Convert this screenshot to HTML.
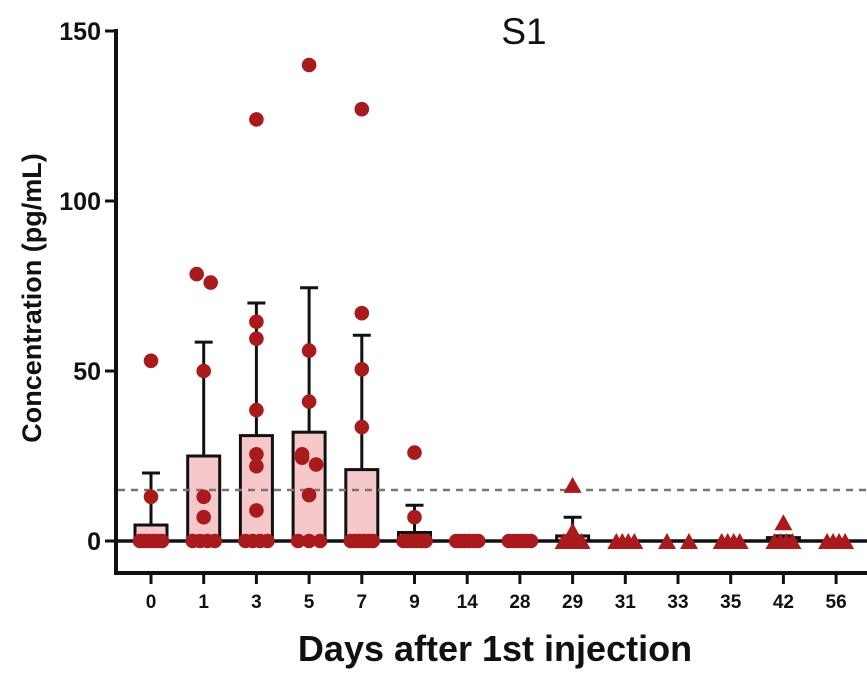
<!DOCTYPE html>
<html><head><meta charset="utf-8"><style>
html,body{margin:0;padding:0;background:#fff;}
svg{display:block;font-family:"Liberation Sans",Arial,sans-serif;}
</style></head><body>
<svg id="chart" width="867" height="675" viewBox="0 0 867 675"></svg>
<script>
const categories = ["0","1","3","5","7","9","14","28","29","31","33","35","42","56"];
const means = [4.7, 25, 31, 32, 21, 2.5, 0, 0, 1.5, 0, 0, 0, 1, 0];
const sdTops = [20, 58.5, 70, 74.5, 60.5, 10.5, 0, 0, 7, 0, 0, 0, 1.5, 0];
const pointValues = [
  [53, 13],
  [78.5, 76, 50, 13, 7],
  [124, 64.5, 59.5, 38.5, 25.5, 22, 9],
  [140, 56, 41, 25.5, 24.5, 22.5, 13.5],
  [127, 67, 50.5, 33.5],
  [26, 7],
  [], [], [16.5, 3], [], [], [], [5.5], []
];
const zeroCounts = [6, 4, 4, 3, 6, 6, 6, 6, 4, 4, 2, 4, 4, 4];
const isTriangle = [false,false,false,false,false,false,false,false,true,true,true,true,true,true];
const yTicks = [0, 50, 100, 150];
const threshold = 15;

const NS = "http://www.w3.org/2000/svg";
const svg = document.getElementById("chart");
const red = "#a81a1c";
function y(v){ return 541 - v * 3.4; }
function x(i){ return 151 + i * 52.7; }
function el(tag, attrs, parent){
  const e = document.createElementNS(NS, tag);
  for (const k in attrs) e.setAttribute(k, attrs[k]);
  (parent || svg).appendChild(e);
  return e;
}

let t = el("text", {x: 524, y: 44, "font-size": 37, "text-anchor": "middle", fill: "#111"});
t.textContent = "S1";



let ya = el("line", {x1: 116, y1: 29, x2: 116, y2: 574, stroke: "#111", "stroke-width": 4});


yTicks.forEach(v => {
  let tk = el("line", {x1: 105, y1: y(v), x2: 116, y2: y(v), stroke: "#111", "stroke-width": 3});
  
  
  let lb = el("text", {x: 101, y: y(v) + 9, "font-size": 25, "font-weight": "bold", "text-anchor": "end", fill: "#111"});
  lb.textContent = v;
  
  
});
let yt = el("text", {x: 0, y: 0, "font-size": 27, "font-weight": "bold", "text-anchor": "middle", fill: "#111", transform: "translate(41,298) rotate(-90)"});
yt.textContent = "Concentration (pg/mL)";



let xa = el("line", {x1: 114, y1: 573, x2: 867, y2: 573, stroke: "#111", "stroke-width": 4});


categories.forEach((c, i) => {
  let tk = el("line", {x1: x(i), y1: 573, x2: x(i), y2: 584, stroke: "#111", "stroke-width": 3});
  
  
  let lb = el("text", {x: x(i), y: 608, "font-size": 19, "font-weight": "bold", "text-anchor": "middle", fill: "#111"});
  lb.textContent = c;
  
  
});
let xt = el("text", {x: 495, y: 661, "font-size": 36, "font-weight": "bold", "text-anchor": "middle", fill: "#111"});
xt.textContent = "Days after 1st injection";



categories.forEach((c, i) => {
  if (sdTops[i] > means[i]) {
    let eb = el("line", {x1: x(i), y1: y(means[i]), x2: x(i), y2: y(sdTops[i]), stroke: "#111", "stroke-width": 3});
    
    
    let cap = el("line", {x1: x(i) - 9, y1: y(sdTops[i]), x2: x(i) + 9, y2: y(sdTops[i]), stroke: "#111", "stroke-width": 3});
    
    
  }
  if (means[i] > 0) {
    let b = el("rect", {x: x(i) - 16, y: y(means[i]), width: 32, height: y(0) - y(means[i]), fill: "#f6c8ca", stroke: "#111", "stroke-width": 3});
    
    
  }
});

let zl = el("line", {x1: 116, y1: y(0), x2: 867, y2: y(0), stroke: "#111", "stroke-width": 3.5});



let th = el("line", {x1: 118, y1: y(threshold), x2: 867, y2: y(threshold), stroke: "#777", "stroke-width": 2.5, "stroke-dasharray": "7,6"});



function mark(cx, cy, tri){
  let m;
  if (tri) {
    m = el("polygon", {points: (cx-9)+","+(cy+8)+" "+(cx+9)+","+(cy+8)+" "+cx+","+(cy-8), fill: red});
  } else {
    m = el("circle", {cx: cx, cy: cy, r: 7.3, fill: red});
  }
  
  
}
categories.forEach((c, i) => {
  const n = zeroCounts[i];
  const spread = i === 10 ? 22 : (isTriangle[i] ? 18 : 22);
  for (let k = 0; k < n; k++) {
    const off = n > 1 ? -spread/2 + spread * k / (n - 1) : 0;
    mark(x(i) + off, y(0), isTriangle[i]);
  }
  const vals = pointValues[i];
  vals.forEach((v, k) => {
    let off = 0;
    vals.forEach((w, j) => { if (j !== k && Math.abs(w - v) < 3.5) off = j < k ? 7 : -7; });
    mark(x(i) + off, y(v), isTriangle[i]);
  });
});
</script>
</body></html>
